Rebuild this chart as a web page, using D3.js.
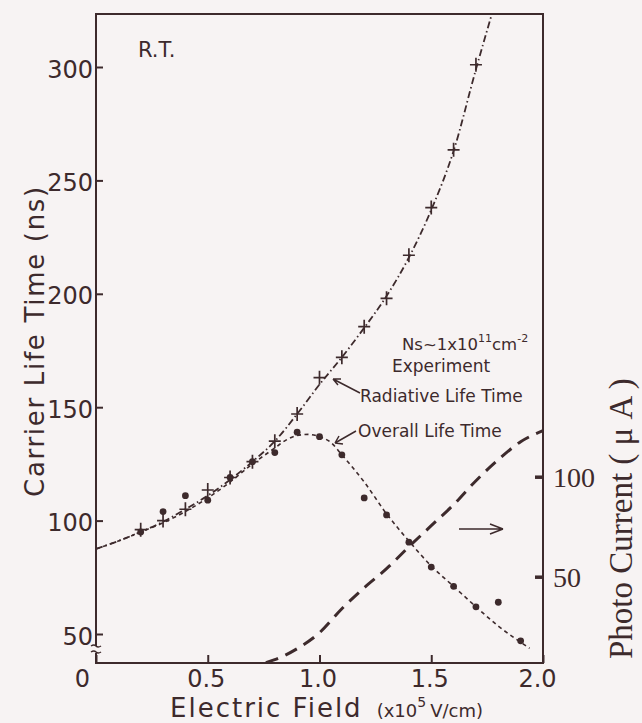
<!DOCTYPE html>
<html>
<head>
<meta charset="utf-8">
<script src="https://cdn.jsdelivr.net/npm/d3@7"></script>
<style>
  body { margin: 0; background: #f7f3f3; }
  svg { display: block; }
</style>
</head>
<body>
<div id="chart"></div>
<script>
// ---- data ----
const fieldTicks = [0, 0.5, 1.0, 1.5, 2.0];
const fieldTickLabels = ["0", "0.5", "1.0", "1.5", "2.0"];
const lifeTicks = [50, 100, 150, 200, 250, 300];
const currentTicks = [50, 100];

// radiative life time, experiment (+)
const radField = [0.2, 0.3, 0.4, 0.5, 0.6, 0.7, 0.8, 0.9, 1.0, 1.1, 1.2, 1.3, 1.4, 1.5, 1.6, 1.7];
const radLife  = [96, 100, 105, 113.5, 119, 126, 135, 147, 163, 172, 185.5, 198, 217, 238, 263.5, 301];

// overall life time, experiment (dots)
const ovField = [0.2, 0.3, 0.4, 0.5, 0.6, 0.7, 0.8, 0.9, 1.0, 1.1, 1.2, 1.3, 1.4, 1.5, 1.6, 1.7, 1.8, 1.9];
const ovLife  = [95, 104, 111, 109, 119, 126, 130, 139, 137, 129, 110, 102.5, 90.5, 79.5, 71, 62, 64, 47];

// fitted radiative curve (dash-dot)
const radCurveField = [0, 0.1, 0.2, 0.3, 0.4, 0.5, 0.6, 0.7, 0.8, 0.9, 1.0, 1.1, 1.2, 1.3, 1.4, 1.5, 1.6, 1.7, 1.77];
const radCurveLife  = [87.5, 91, 95, 99.5, 105, 111, 118, 126, 135, 147, 160, 172, 185, 199, 216, 237, 263, 299, 323];

// fitted overall curve (short dashes)
const ovCurveField = [0, 0.1, 0.2, 0.3, 0.4, 0.5, 0.6, 0.7, 0.8, 0.85, 0.9, 0.95, 1.0, 1.05, 1.1, 1.2, 1.3, 1.4, 1.5, 1.6, 1.7, 1.8, 1.94];
const ovCurveLife  = [87.5, 91, 95, 99, 104, 110, 117, 125, 132, 135.5, 137.5, 138, 137, 134.5, 129, 117, 103, 91, 80, 71, 62, 53.5, 43.7];

// photo current (long dashes, right axis)
const pcField   = [0.76, 0.8, 0.9, 1.0, 1.1, 1.2, 1.3, 1.4, 1.5, 1.6, 1.7, 1.8, 1.9, 2.0];
const pcCurrent = [7, 8.5, 14, 22, 34, 44.5, 54, 65, 75.5, 86, 98, 108.5, 117.5, 123];

// ---- layout ----
const W = 642, H = 723;
const box = { left: 96, right: 543, top: 14, bottom: 663 };
const ink = "#3d2a2c";
const sans = "'DejaVu Sans', sans-serif";
const serif = "'Liberation Serif', 'DejaVu Serif', serif";

const svg = d3.select("#chart").append("svg")
    .attr("width", W).attr("height", H);

svg.append("rect").attr("width", W).attr("height", H).attr("fill", "#f7f3f3");

const x = d3.scaleLinear().domain([0, 2]).range([box.left, box.right]);
const y = d3.scaleLinear().domain([50, 300]).range([634, 67]);
const yR = d3.scaleLinear().domain([50, 100]).range([576.7, 476.7]);

// clip for curves
svg.append("clipPath").attr("id", "plot")
    .append("rect").attr("x", box.left).attr("y", box.top)
    .attr("width", box.right - box.left).attr("height", box.bottom - box.top);

// frame with the break on the left axis
const frame = svg.append("g").attr("stroke", ink).attr("stroke-width", 2).attr("fill", "none");
frame.append("path").attr("d", `M${box.left},646 V${box.top} H${box.right} V${box.bottom} H${box.left} V653`);
frame.append("path").attr("stroke-width", 1.5)
    .attr("d", `M${box.left - 5},646 q3,-2 5,0 t5,0 M${box.left - 5},652 q3,-2 5,0 t5,0`);

// left axis
const yAxis = svg.append("g")
    .attr("transform", `translate(${box.left},0)`)
    .call(d3.axisLeft(y).tickValues(lifeTicks).tickSizeInner(-7).tickSizeOuter(0).tickPadding(3));
yAxis.select(".domain").remove();
yAxis.selectAll("line").attr("stroke", ink).attr("stroke-width", 2);
yAxis.selectAll("text").attr("fill", ink).style("font-family", sans).style("font-size", "24px")
    .attr("dy", "0.42em");

// bottom axis
const xAxis = svg.append("g")
    .attr("transform", `translate(0,${box.bottom})`)
    .call(d3.axisBottom(x).tickValues(fieldTicks).tickFormat((d, i) => fieldTickLabels[i])
        .tickSizeInner(-8).tickSizeOuter(0).tickPadding(7));
xAxis.select(".domain").remove();
xAxis.selectAll("line").attr("stroke", ink).attr("stroke-width", 2);
xAxis.selectAll("text").attr("fill", ink).style("font-family", sans).style("font-size", "24px")
    .attr("x", (d, i) => i === 0 ? -14 : (i === 4 ? -6 : -2));

// right axis
const rAxis = svg.append("g")
    .attr("transform", `translate(${box.right},0)`)
    .call(d3.axisRight(yR).tickValues(currentTicks).tickSizeInner(-8).tickSizeOuter(0).tickPadding(10));
rAxis.select(".domain").remove();
rAxis.selectAll("line").attr("stroke", ink).attr("stroke-width", 3.5);
rAxis.selectAll("text").attr("fill", ink).style("font-family", serif).style("font-size", "28px")
    .attr("dy", "0.36em");

// axis titles
svg.append("text")
    .attr("transform", "translate(44,341) rotate(-90)")
    .attr("text-anchor", "middle").attr("fill", ink)
    .style("font-family", sans).style("font-size", "26px").style("letter-spacing", "1.7px")
    .text("Carrier Life Time (ns)");

const xt = svg.append("text").attr("x", 170).attr("y", 717).attr("fill", ink)
    .style("font-family", sans);
xt.append("tspan").style("font-size", "26px").style("letter-spacing", "2px").text("Electric Field");
xt.append("tspan").attr("dx", 14).style("font-size", "18px").text("(x10");
xt.append("tspan").attr("dy", -10).style("font-size", "14px").text("5");
xt.append("tspan").attr("dy", 10).attr("dx", 4).style("font-size", "18px").text("V/cm)");

svg.append("text")
    .attr("transform", "translate(632,659) rotate(-90)")
    .attr("fill", ink)
    .style("font-family", serif).style("font-size", "33px")
    .text("Photo Current ( μ A )");

// curves
const plot = svg.append("g").attr("clip-path", "url(#plot)").attr("fill", "none").attr("stroke", ink);
const line = d3.line().curve(d3.curveMonotoneX);

plot.append("path")
    .attr("d", line(radCurveField.map((f, i) => [x(f), y(radCurveLife[i])])))
    .attr("stroke-width", 1.8).attr("stroke-dasharray", "7,3,1.5,3");

plot.append("path")
    .attr("d", line(ovCurveField.map((f, i) => [x(f), y(ovCurveLife[i])])))
    .attr("stroke-width", 1.6).attr("stroke-dasharray", "4,3.5");

plot.append("path")
    .attr("d", line(pcField.map((f, i) => [x(f), yR(pcCurrent[i])])))
    .attr("stroke-width", 3).attr("stroke-dasharray", "13,8");

// markers
svg.append("g").selectAll("circle")
    .data(ovField.map((f, i) => [f, ovLife[i]]))
    .join("circle")
    .attr("cx", d => x(d[0])).attr("cy", d => y(d[1]))
    .attr("r", 3.4).attr("fill", ink);

svg.append("g").selectAll("path")
    .data(radField.map((f, i) => [f, radLife[i]]))
    .join("path")
    .attr("d", d => `M${x(d[0]) - 6},${y(d[1])} h12 M${x(d[0])},${y(d[1]) - 7} v14`)
    .attr("stroke", ink).attr("stroke-width", 1.7).attr("fill", "none");

// annotations
const ann = svg.append("g").attr("fill", ink).style("font-family", sans);
ann.append("text").attr("x", 138).attr("y", 57).style("font-size", "21px").text("R.T.");

const ns = ann.append("text").attr("x", 402).attr("y", 350).style("font-size", "16.5px");
ns.append("tspan").text("Ns~1x10");
ns.append("tspan").attr("dy", -8).style("font-size", "11px").text("11");
ns.append("tspan").attr("dy", 8).text("cm");
ns.append("tspan").attr("dy", -8).style("font-size", "11px").text("-2");

ann.append("text").attr("x", 392).attr("y", 372).style("font-size", "17px").text("Experiment");
ann.append("text").attr("x", 360).attr("y", 402).style("font-size", "17px").text("Radiative Life Time");
ann.append("text").attr("x", 358).attr("y", 437).style("font-size", "17px").text("Overall Life Time");

const arrows = svg.append("g").attr("stroke", ink).attr("stroke-width", 1.5).attr("fill", "none");
arrows.append("path").attr("d", "M360,393 L333,379 M333,379 l8,0 M333,379 l5,6");
arrows.append("path").attr("d", "M356,431 L335,443 M335,443 l4,-7 M335,443 l8,1");
arrows.append("path").attr("d", "M459,529 H503 M503,529 l-13,-5 M503,529 l-13,5");
</script>
</body>
</html>
